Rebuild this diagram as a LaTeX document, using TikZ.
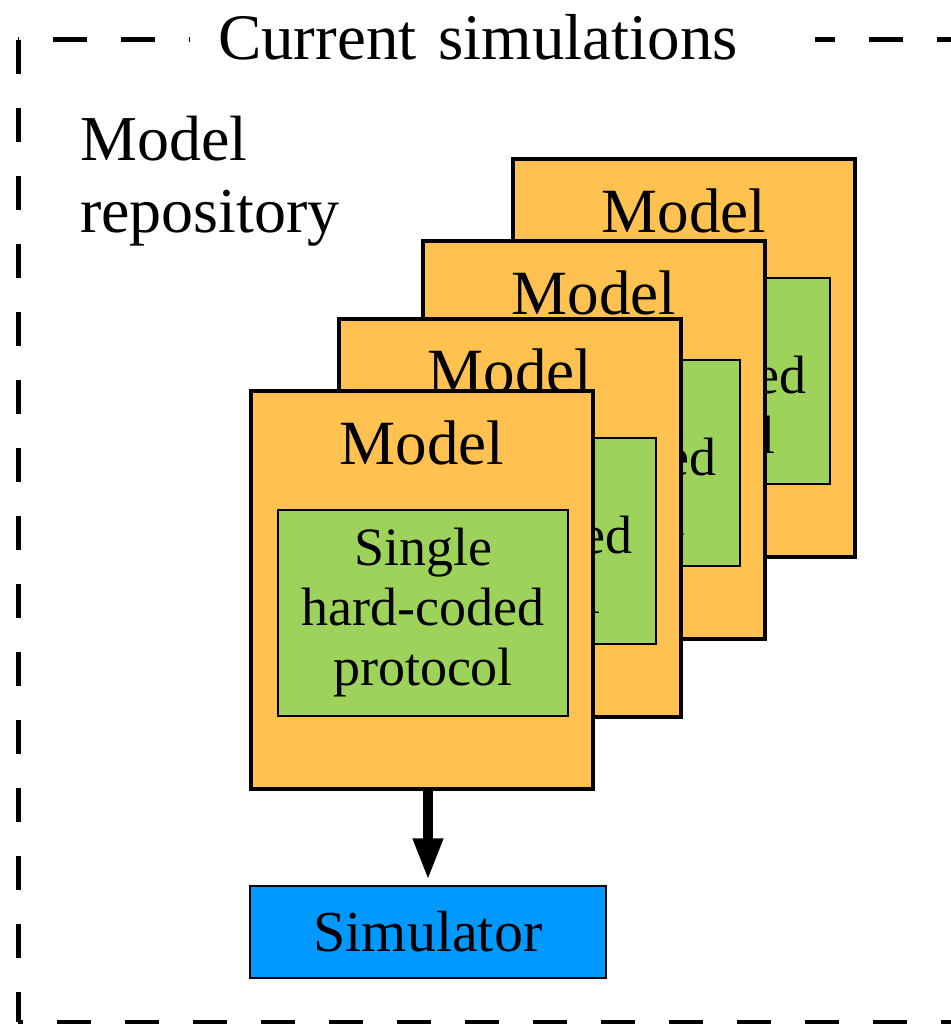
\documentclass[tikz,border=0pt]{standalone}
\usepackage{fontspec}
\setmainfont{Liberation Serif}
\usetikzlibrary{arrows.meta}
\definecolor{cardorange}{HTML}{FFC14F}
\definecolor{protogreen}{HTML}{9DD35B}
\definecolor{simblue}{HTML}{0099FF}
\begin{document}
\begin{tikzpicture}[x=1pt,y=-1pt]
		        \tikzstyle{card}=[rectangle,draw=black,line width=3.4pt,fill=cardorange,minimum width=342pt,minimum height=398pt,inner sep=0pt]
		        \tikzstyle{cardtitle}=[inner sep=0pt,font=\fontsize{63}{70}\selectfont]
		        \tikzstyle{proto}=[rectangle,draw=black,line width=1.5pt,fill=protogreen,minimum width=290pt,minimum height=206pt,inner sep=0pt,align=center,font=\fontsize{54}{60}\selectfont]
		        \tikzstyle{simbox}=[rectangle,draw=black,line width=1.5pt,fill=simblue,minimum width=356pt,minimum height=92pt,inner sep=0pt,font=\fontsize{58}{64}\selectfont]
		        \tikzstyle{flow}=[draw, line width=10pt, -{Triangle[width=28pt,length=42pt]}]
		        \tikzstyle{frame}=[line width=5pt,dash pattern=on 34pt off 34pt]
		        \useasboundingbox (0,0) rectangle (950,1024);
		       \begin{scope}
			        % dashed frame
			        \coordinate (tl) at (18,40);
			        \coordinate (tr) at (990,40);
			        \coordinate (bl) at (18,1022);
			        \coordinate (br) at (990,1022);
			        \draw[frame,dash phase=0pt] (tl) -- (bl);
			        \draw[frame,dash phase=33pt] (tl) -- (tr);
			        \draw[frame,dash phase=29pt] (bl) -- (br);
			        \node [fill=white,inner xsep=28pt,inner ysep=4pt,text width=569pt,align=left,font=\fontsize{65}{72}\selectfont] (title) at (502.5,37) {Current simulations};
			        \node [anchor=north west,inner sep=0pt,align=left,font=\fontsize{64}{72}\selectfont] (repo) at (80,116) {Model\\repository};
			        % stacked models, back to front
			        \node [card] (c4) at (684,358) {};
			        \node [cardtitle] (m4) at (684,211) {Model};
			        \node [proto] (p4) at (685,381) {Single\\hard-coded\\protocol};
			        \node [card] (c3) at (594,440) {};
			        \node [cardtitle] (m3) at (594,293) {Model};
			        \node [proto] (p3) at (595,463) {Single\\hard-coded\\protocol};
			        \node [card] (c2) at (510,518) {};
			        \node [cardtitle] (m2) at (510,371) {Model};
			        \node [proto] (p2) at (511,541) {Single\\hard-coded\\protocol};
			        \node [card] (c1) at (422,590) {};
			        \node [cardtitle] (m1) at (422,443) {Model};
			        \node [proto] (p1) at (423,613) {Single\\hard-coded\\protocol};
			        \node [simbox] (sim) at (428,932) {Simulator};
			        \path[flow] (c1.south -| sim.north) -- ([yshift=5pt]sim.north);
       			 \end{scope}
\end{tikzpicture}
\end{document}
